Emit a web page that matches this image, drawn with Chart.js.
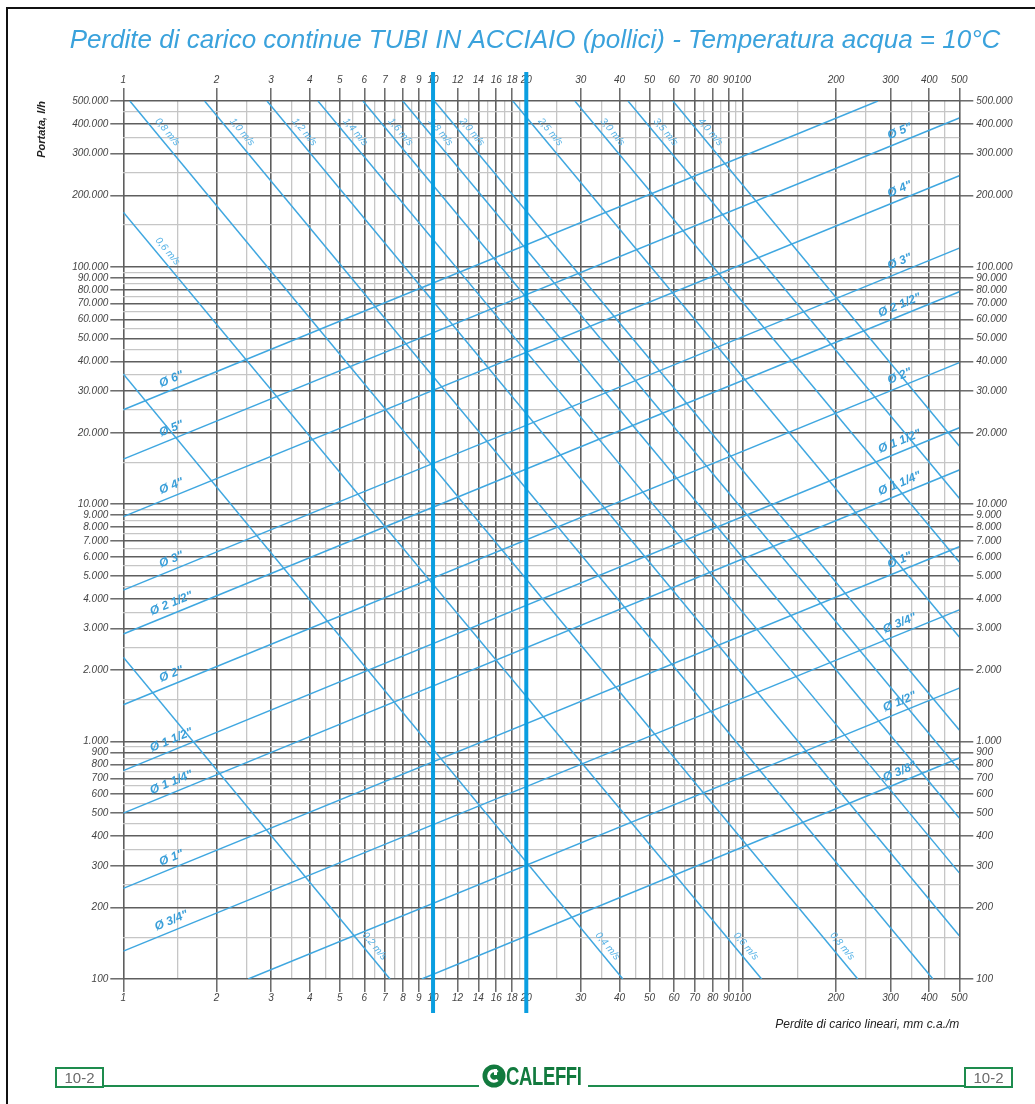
<!DOCTYPE html>
<html>
<head>
<meta charset="utf-8">
<script src="https://cdn.jsdelivr.net/npm/chart.js@4.4.0/dist/chart.umd.min.js"></script>
<style>
  html, body { margin: 0; padding: 0; background: #fff; }
  #page { position: relative; width: 1035px; height: 1104px; overflow: hidden; font-family: 'Liberation Sans', Arial, sans-serif; }
  #frame { position: absolute; left: 6px; top: 7px; width: 1100px; height: 1200px; border-left: 2px solid #111; border-top: 2px solid #111; }
  #chart { position: absolute; left: 0; top: 0; }
  .rule { position: absolute; top: 1085px; height: 2px; background: #1e8c4e; }
  .pageNo { position: absolute; top: 1067px; width: 45px; height: 17px; border: 2px solid #1e8c4e; color: #6a6a6a; font-size: 15px; line-height: 17px; text-align: center; }
  #brand { position: absolute; left: 482px; top: 1063px; height: 26px; display: flex; align-items: center; }
  #brand span { display: inline-block; font-weight: bold; font-size: 25px; color: #127a3e; transform: scaleX(0.74); transform-origin: left center; letter-spacing: -0.5px; }
</style>
</head>
<body>
<div id="page">
  <div id="frame"></div>
  <canvas id="chart" width="1035" height="1104"></canvas>
  <div class="pageNo" style="left:55px">10-2</div>
  <div class="rule" style="left:104px; width:375px"></div>
  <div id="brand">
    <svg width="24" height="24" viewBox="0 0 24 24">
      <circle cx="12" cy="12" r="11.5" fill="#127a3e"/>
      <path d="M15.5 8.2 A5.2 5.2 0 1 0 15.5 15.8" stroke="#fff" stroke-width="3.2" fill="none"/>
      <rect x="12" y="5" width="3" height="6" fill="#fff"/>
    </svg>
    <span>CALEFFI</span>
  </div>
  <div class="rule" style="left:588px; width:377px"></div>
  <div class="pageNo" style="left:964px">10-2</div>
</div>

<script>
// perdite di carico (mm c.a./m) - asse x
const lossMajor = [1, 2, 3, 4, 5, 6, 7, 8, 9, 10, 12, 14, 16, 18, 20, 30, 40, 50, 60, 70, 80, 90, 100, 200, 300, 400, 500];
const lossMinor = [1.5, 2.5, 3.5, 4.5, 5.5, 6.5, 7.5, 8.5, 9.5, 11, 13, 15, 17, 19, 25, 35, 45, 55, 65, 75, 85, 95, 150, 250, 350, 450];

// portata (l/h) - asse y
const flowMajor = [100, 200, 300, 400, 500, 600, 700, 800, 900,
  1000, 2000, 3000, 4000, 5000, 6000, 7000, 8000, 9000,
  10000, 20000, 30000, 40000, 50000, 60000, 70000, 80000, 90000,
  100000, 200000, 300000, 400000, 500000];
const flowMinor = [150, 250, 350, 450, 550, 650, 750, 850, 950,
  1500, 2500, 3500, 4500, 5500, 6500, 7500, 8500, 9500,
  15000, 25000, 35000, 45000, 55000, 65000, 75000, 85000, 95000,
  150000, 250000, 350000, 450000];

// linee diametro tubo
const pipeNames = ['6"', '5"', '4"', '3"', '2 1/2"', '2"', '1 1/2"', '1 1/4"', '1"', '3/4"', '1/2"', '3/8"'];
const pipeStartLoss = [1, 1, 1, 1, 1, 1, 1, 1, 1, 1, 2.53, 9.2];
const pipeStartFlow = [25000, 15500, 8870, 4350, 2840, 1430, 755, 500, 241, 131, 100, 100];
const pipeEndLoss = [273, 500, 500, 500, 500, 500, 500, 500, 500, 500, 500, 500];
const pipeEndFlow = [500000, 424000, 242000, 120000, 78600, 39500, 21000, 13950, 6620, 3590, 1680, 853];
const pipeLabelLeft = [1.47, 1.47, 1.47, 1.47, 1.47, 1.47, 1.47, 1.47, 1.47, 1.47, null, null];
const pipeLabelRight = [null, 330, 330, 330, 330, 330, 330, 330, 330, 330, 330, 330];

// linee velocita
const speedNames = ['0,2', '0,4', '0,6', '0,8', '1,0', '1,2', '1,4', '1,6', '1,8', '2,0', '2,5', '3,0', '3,5', '4,0'];
const speedStartLoss = [1, 1, 1, 1.05, 1.83, 2.91, 4.25, 5.94, 7.99, 10.1, 18.1, 28.7, 42.6, 59.5];
const speedStartFlow = [2270, 35400, 170000, 500000, 500000, 500000, 500000, 500000, 500000, 500000, 500000, 500000, 500000, 500000];
const speedEndLoss = [7.26, 41, 115, 235, 411, 500, 500, 500, 500, 500, 500, 500, 500, 500];
const speedEndFlow = [100, 100, 100, 100, 100, 152, 280, 477, 760, 1120, 2760, 5710, 10600, 17600];
const speedLabelTop = [null, null, 110000, 350000, 350000, 350000, 350000, 350000, 350000, 350000, 350000, 350000, 350000, 350000];
const speedLabelBottom = [130, 130, 130, 130, null, null, null, null, null, null, null, null, null, null];

// valori evidenziati
const highlightLosses = [10, 20];

const BLUE = '#3fa7e0';
const DARK = '#5e5e5e';
const LIGHT = '#c6c6c6';

function dotted(v) {
  return String(v).replace(/\B(?=(\d{3})+(?!\d))/g, '.');
}

function allTicks(major, minor) {
  return major.concat(minor).sort((a, b) => a - b).map(v => ({ value: v }));
}

const datasets = [];
pipeNames.forEach((name, i) => {
  datasets.push({
    label: 'Ø ' + name,
    data: [{ x: pipeStartLoss[i], y: pipeStartFlow[i] }, { x: pipeEndLoss[i], y: pipeEndFlow[i] }],
    borderColor: BLUE,
    borderWidth: 1.5,
    pointRadius: 0
  });
});
speedNames.forEach((name, i) => {
  datasets.push({
    label: name + ' m/s',
    data: [{ x: speedStartLoss[i], y: speedStartFlow[i] }, { x: speedEndLoss[i], y: speedEndFlow[i] }],
    borderColor: BLUE,
    borderWidth: 1.5,
    pointRadius: 0
  });
});

function textAlong(ctx, a, b, t, offset, text) {
  const ang = Math.atan2(b.y - a.y, b.x - a.x);
  const px = a.x + t * (b.x - a.x);
  const py = a.y + t * (b.y - a.y);
  ctx.save();
  ctx.translate(px + Math.sin(ang) * offset, py - Math.cos(ang) * offset);
  ctx.rotate(ang);
  ctx.fillText(text, 0, 0);
  ctx.restore();
}

const lineLabels = {
  id: 'lineLabels',
  afterDatasetsDraw(chart) {
    const { ctx } = chart;
    const x = chart.scales.x;
    const y = chart.scales.y;
    ctx.save();
    ctx.textAlign = 'center';
    ctx.textBaseline = 'middle';

    ctx.font = "italic bold 12px 'Liberation Sans', Arial, sans-serif";
    ctx.fillStyle = '#3a9fd9';
    pipeNames.forEach((name, i) => {
      const a = { x: x.getPixelForValue(pipeStartLoss[i]), y: y.getPixelForValue(pipeStartFlow[i]) };
      const b = { x: x.getPixelForValue(pipeEndLoss[i]), y: y.getPixelForValue(pipeEndFlow[i]) };
      [pipeLabelLeft[i], pipeLabelRight[i]].forEach(at => {
        if (at == null) return;
        const t = (x.getPixelForValue(at) - a.x) / (b.x - a.x);
        textAlong(ctx, a, b, t, 10, 'Ø ' + name);
      });
    });

    ctx.font = "italic 10px 'Liberation Sans', Arial, sans-serif";
    ctx.fillStyle = '#55b2e6';
    speedNames.forEach((name, i) => {
      const a = { x: x.getPixelForValue(speedStartLoss[i]), y: y.getPixelForValue(speedStartFlow[i]) };
      const b = { x: x.getPixelForValue(speedEndLoss[i]), y: y.getPixelForValue(speedEndFlow[i]) };
      [speedLabelTop[i], speedLabelBottom[i]].forEach(at => {
        if (at == null) return;
        const t = (y.getPixelForValue(at) - a.y) / (b.y - a.y);
        textAlong(ctx, a, b, t, 9, name + ' m/s');
      });
    });
    ctx.restore();
  },
  afterDraw(chart) {
    const { ctx, chartArea } = chart;
    const x = chart.scales.x;
    ctx.save();
    ctx.strokeStyle = '#0a9ee0';
    ctx.lineWidth = 4;
    highlightLosses.forEach(v => {
      const px = x.getPixelForValue(v);
      ctx.beginPath();
      ctx.moveTo(px, chartArea.top - 29);
      ctx.lineTo(px, chartArea.bottom + 34);
      ctx.stroke();
    });
    ctx.restore();
  }
};

const tickFont = { size: 10, style: 'italic' };

function lossAxis(position, onArea, height, tickLength, padding) {
  return {
    type: 'logarithmic',
    position: position,
    min: 1,
    max: 500,
    afterBuildTicks: s => { s.ticks = allTicks(lossMajor, lossMinor); },
    afterFit: s => { s.height = height; },
    ticks: {
      autoSkip: false,
      maxRotation: 0,
      minRotation: 0,
      padding: padding,
      color: '#444',
      font: tickFont,
      callback: v => lossMajor.includes(v) ? String(v) : ''
    },
    grid: {
      drawOnChartArea: onArea,
      tickLength: tickLength,
      color: c => lossMajor.includes(c.tick.value) ? DARK : LIGHT,
      lineWidth: c => lossMajor.includes(c.tick.value) ? 1.6 : 1.3,
      tickColor: c => lossMajor.includes(c.tick.value) ? DARK : 'rgba(0,0,0,0)',
      tickWidth: 1.4
    },
    border: { display: false }
  };
}

function flowAxis(position, onArea, width, tickLength, padding) {
  return {
    type: 'logarithmic',
    position: position,
    min: 100,
    max: 500000,
    afterBuildTicks: s => { s.ticks = allTicks(flowMajor, flowMinor); },
    afterFit: s => { s.width = width; },
    ticks: {
      autoSkip: false,
      padding: padding,
      color: '#444',
      font: tickFont,
      callback: v => flowMajor.includes(v) ? dotted(v) : ''
    },
    grid: {
      drawOnChartArea: onArea,
      tickLength: tickLength,
      color: c => flowMajor.includes(c.tick.value) ? DARK : LIGHT,
      lineWidth: c => flowMajor.includes(c.tick.value) ? 1.6 : 1.3,
      tickColor: c => flowMajor.includes(c.tick.value) ? DARK : 'rgba(0,0,0,0)',
      tickWidth: 1.4
    },
    border: { display: false }
  };
}

const xBottom = lossAxis('bottom', true, 60, 13, 0);
xBottom.title = {
  display: true,
  text: 'Perdite di carico lineari, mm c.a./m',
  align: 'end',
  color: '#222',
  font: { size: 12, style: 'italic' },
  padding: { top: 0, bottom: 7 }
};
const xTop = lossAxis('top', false, 40.8, 13, 1.5);

const yLeft = flowAxis('left', true, 88.3, 13, 2);
yLeft.title = {
  display: true,
  text: 'Portata, l/h',
  align: 'end',
  color: '#222',
  font: { size: 11, style: 'italic', weight: 'bold' },
  padding: { top: 0, bottom: 0 }
};
const yRight = flowAxis('right', false, 75.7, 14, 3);

Chart.defaults.font.family = "'Liberation Sans', Arial, sans-serif";

new Chart(document.getElementById('chart'), {
  type: 'line',
  data: { datasets: datasets },
  options: {
    responsive: false,
    animation: false,
    layout: { padding: { left: 35, right: 0, top: 0, bottom: 65 } },
    scales: { x: xBottom, x2: xTop, y: yLeft, y2: yRight },
    plugins: {
      legend: { display: false },
      tooltip: { enabled: false },
      title: {
        display: true,
        text: 'Perdite di carico continue TUBI IN ACCIAIO (pollici) - Temperatura acqua = 10°C',
        color: '#3aa2dc',
        font: { size: 26, style: 'italic', weight: 'normal' },
        padding: { top: 25, bottom: 4 }
      }
    }
  },
  plugins: [lineLabels]
});
</script>
</body>
</html>
